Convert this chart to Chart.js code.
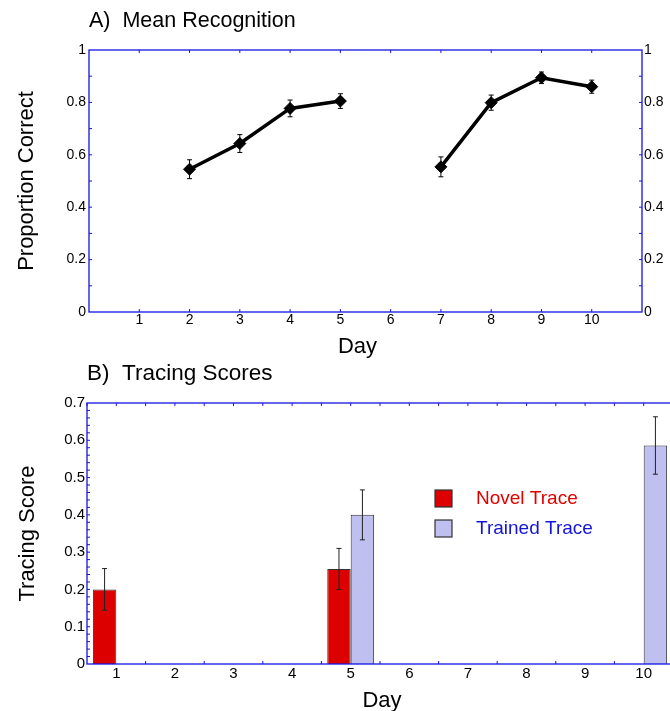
<!DOCTYPE html>
<html>
<head>
<meta charset="utf-8">
<script src="https://cdn.jsdelivr.net/npm/chart.js@4.4.0/dist/chart.umd.min.js"></script>
<style>
  html, body { margin: 0; padding: 0; background: #fff; overflow: hidden; }
  #wrap { position: relative; width: 670px; height: 711px; overflow: hidden; }
  #recogChart { position: absolute; left: 0; top: 0; }
  #traceChart { position: absolute; left: 0; top: 355px; }
</style>
</head>
<body>
<div id="wrap">
  <canvas id="recogChart" width="670" height="370"></canvas>
  <canvas id="traceChart" width="680" height="356"></canvas>
</div>
<script>
// Panel A - mean recognition (null = no session that day)
const recogDays = [2, 3, 4, 5, 6, 7, 8, 9, 10];
const recogMean = [0.545, 0.643, 0.777, 0.805, null, 0.554, 0.799, 0.894, 0.860];
const recogErr = [0.036, 0.034, 0.032, 0.028, null, 0.038, 0.029, 0.022, 0.025];

// Panel B - tracing scores
const traceDays = ["1", "2", "3", "4", "5", "6", "7", "8", "9", "10"];
const novelScore = [0.200, null, null, null, 0.255, null, null, null, null, null];
const novelErr = [0.056, null, null, null, 0.055, null, null, null, null, null];
const trainedScore = [null, null, null, null, 0.400, null, null, null, null, 0.586];
const trainedErr = [null, null, null, null, 0.067, null, null, null, null, 0.077];

const FONT = "'Liberation Sans', Arial, Helvetica, sans-serif";
const AXIS_BLUE = "#1414e0";

// box round the plot area with short inward ticks
const framePlugin = {
  id: "frame",
  afterDraw(chart, args, opts) {
    const { ctx, chartArea: a, scales } = chart;
    const xs = scales.x;
    const ys = scales.y;
    const len = opts.len || 3;
    ctx.save();
    ctx.strokeStyle = AXIS_BLUE;
    ctx.lineWidth = 1.3;
    ctx.strokeRect(a.left, a.top, a.right - a.left, a.bottom - a.top);
    ctx.lineWidth = 1;
    ctx.beginPath();
    (opts.bottom || []).forEach((v) => {
      const px = xs.getPixelForValue(v);
      ctx.moveTo(px, a.bottom);
      ctx.lineTo(px, a.bottom - len);
    });
    (opts.top || []).forEach((v) => {
      const px = xs.getPixelForValue(v);
      ctx.moveTo(px, a.top);
      ctx.lineTo(px, a.top + len);
    });
    (opts.left || []).forEach((v) => {
      const py = ys.getPixelForValue(v);
      ctx.moveTo(a.left, py);
      ctx.lineTo(a.left + len, py);
    });
    (opts.right || []).forEach((v) => {
      const py = ys.getPixelForValue(v);
      ctx.moveTo(a.right, py);
      ctx.lineTo(a.right - len, py);
    });
    ctx.stroke();
    ctx.restore();
  },
};

// error bars for every dataset that carries an "err" array
const errorBarPlugin = {
  id: "errorBars",
  afterDatasetsDraw(chart) {
    const { ctx } = chart;
    const ys = chart.scales.y;
    ctx.save();
    chart.data.datasets.forEach((ds, di) => {
      if (!ds.err) return;
      const meta = chart.getDatasetMeta(di);
      meta.data.forEach((el, i) => {
        const e = ds.err[i];
        const raw = ds.data[i];
        const v = raw !== null && typeof raw === "object" ? raw.y : raw;
        if (v === null || e === null || e === undefined) return;
        const yTop = ys.getPixelForValue(v + e);
        const yBot = ys.getPixelForValue(v - e);
        ctx.strokeStyle = ds.errColor || "#000";
        ctx.lineWidth = 1;
        ctx.beginPath();
        ctx.moveTo(el.x, yTop);
        ctx.lineTo(el.x, yBot);
        ctx.moveTo(el.x - 2.5, yTop);
        ctx.lineTo(el.x + 2.5, yTop);
        ctx.moveTo(el.x - 2.5, yBot);
        ctx.lineTo(el.x + 2.5, yBot);
        ctx.stroke();
      });
    });
    ctx.restore();
  },
};

// titles and axis labels
const textPlugin = {
  id: "texts",
  afterDraw(chart, args, opts) {
    const { ctx, chartArea: a } = chart;
    const midX = (a.left + a.right) / 2;
    const midY = (a.top + a.bottom) / 2;
    ctx.save();
    ctx.fillStyle = "#000";
    ctx.textBaseline = "middle";
    ctx.font = opts.titleSize + "px " + FONT;
    ctx.textAlign = "left";
    ctx.fillText(opts.title, a.left, a.top + opts.titleDy);
    ctx.font = "22px " + FONT;
    ctx.textAlign = "center";
    ctx.fillText(opts.xTitle, midX + opts.xTitleDx, a.bottom + opts.xTitleDy);
    ctx.translate(opts.yTitleX, midY);
    ctx.rotate(-Math.PI / 2);
    ctx.fillText(opts.yTitle, 0, 0);
    ctx.restore();
  },
};

// legend boxes drawn inside the plot area
const boxLegendPlugin = {
  id: "boxLegend",
  afterDraw(chart, args, opts) {
    const { ctx } = chart;
    ctx.save();
    ctx.font = "19px " + FONT;
    ctx.textBaseline = "middle";
    ctx.textAlign = "left";
    chart.data.datasets.forEach((ds, i) => {
      const y = opts.y + i * opts.gap;
      ctx.fillStyle = ds.backgroundColor;
      ctx.fillRect(opts.x, y, 17, 17);
      ctx.strokeStyle = "#333";
      ctx.lineWidth = 1.2;
      ctx.strokeRect(opts.x, y, 17, 17);
      ctx.fillStyle = ds.legendColor;
      ctx.fillText(ds.label, opts.x + 41, y + 9);
    });
    ctx.restore();
  },
};

const fixSize = (prop, size) => (scale) => { scale[prop] = size; };
const plainNum = (v) => String(+v.toFixed(2));

// ---- Panel A
const recogPoints = recogDays.map((d, i) => ({ x: d, y: recogMean[i] }));
const dayTicks = [1, 2, 3, 4, 5, 6, 7, 8, 9, 10];
const tenthTicks = [0.1, 0.2, 0.3, 0.4, 0.5, 0.6, 0.7, 0.8, 0.9];

new Chart(document.getElementById("recogChart"), {
  type: "line",
  data: {
    datasets: [
      {
        label: "Mean Recognition",
        data: recogPoints,
        err: recogErr,
        borderColor: "#000",
        borderWidth: 3.5,
        pointStyle: "rectRot",
        pointRadius: 6,
        pointBackgroundColor: "#000",
        pointBorderColor: "#000",
        pointBorderWidth: 1,
        spanGaps: false,
        tension: 0,
      },
    ],
  },
  options: {
    responsive: false,
    devicePixelRatio: 1,
    animation: false,
    events: [],
    layout: { padding: { top: 50, left: 0, right: 0, bottom: 0 } },
    plugins: {
      legend: { display: false },
      tooltip: { enabled: false },
      frame: { bottom: dayTicks, top: dayTicks, left: tenthTicks, right: tenthTicks, len: 3 },
      texts: {
        title: "A)  Mean Recognition",
        titleSize: 21.5,
        titleDy: -29,
        xTitle: "Day",
        xTitleDx: -8,
        xTitleDy: 35,
        yTitle: "Proportion Correct",
        yTitleX: 27,
      },
    },
    scales: {
      x: {
        type: "linear",
        min: 0,
        max: 11,
        afterFit: fixSize("height", 58),
        grid: { display: false, drawTicks: false },
        border: { display: false },
        ticks: {
          stepSize: 1,
          padding: 0,
          color: "#000",
          font: { family: FONT, size: 14 },
          callback: (v) => (v >= 1 && v <= 10 ? String(v) : ""),
        },
      },
      y: {
        min: 0,
        max: 1,
        afterFit: fixSize("width", 89),
        grid: { display: false, drawTicks: false },
        border: { display: false },
        ticks: { stepSize: 0.2, padding: 3, color: "#000", font: { family: FONT, size: 14 }, callback: plainNum },
      },
      y2: {
        position: "right",
        min: 0,
        max: 1,
        afterFit: fixSize("width", 28),
        grid: { display: false, drawTicks: false },
        border: { display: false },
        ticks: { stepSize: 0.2, padding: 2, color: "#000", font: { family: FONT, size: 14 }, callback: plainNum },
      },
    },
  },
  plugins: [framePlugin, errorBarPlugin, textPlugin],
});

// ---- Panel B
const halfSteps = [];
for (let i = -0.5; i <= 9.5; i += 0.5) halfSteps.push(i);
const betweenDays = [0.5, 1.5, 2.5, 3.5, 4.5, 5.5, 6.5, 7.5, 8.5];
const fineTicks = [];
for (let k = 1; k < 35; k++) fineTicks.push(k * 0.02);

new Chart(document.getElementById("traceChart"), {
  type: "bar",
  data: {
    labels: traceDays,
    datasets: [
      {
        label: "Novel Trace",
        data: novelScore,
        err: novelErr,
        errColor: "#222",
        backgroundColor: "#dd0000",
        borderColor: "#333",
        borderWidth: 1,
        legendColor: "#e00000",
        categoryPercentage: 0.8,
        barPercentage: 1.0,
      },
      {
        label: "Trained Trace",
        data: trainedScore,
        err: trainedErr,
        errColor: "#222",
        backgroundColor: "#bfbff0",
        borderColor: "#333",
        borderWidth: 1,
        legendColor: "#1414d8",
        categoryPercentage: 0.8,
        barPercentage: 1.0,
      },
    ],
  },
  options: {
    responsive: false,
    devicePixelRatio: 1,
    animation: false,
    events: [],
    layout: { padding: { top: 48, left: 0, right: 7, bottom: 0 } },
    plugins: {
      legend: { display: false },
      tooltip: { enabled: false },
      frame: { bottom: betweenDays, top: halfSteps, left: fineTicks, right: [], len: 3 },
      errorBars: {},
      boxLegend: { x: 435, y: 135, gap: 30 },
      texts: {
        title: "B)  Tracing Scores",
        titleSize: 22.5,
        titleDy: -29,
        xTitle: "Day",
        xTitleDx: 2,
        xTitleDy: 37,
        yTitle: "Tracing Score",
        yTitleX: 28,
      },
    },
    scales: {
      x: {
        type: "category",
        offset: true,
        afterFit: fixSize("height", 47),
        grid: { display: false, drawTicks: false },
        border: { display: false },
        ticks: { padding: 1, color: "#000", font: { family: FONT, size: 15 } },
      },
      y: {
        min: 0,
        max: 0.7,
        afterFit: fixSize("width", 87),
        grid: { display: false, drawTicks: false },
        border: { display: false },
        ticks: { stepSize: 0.1, padding: 2, color: "#000", font: { family: FONT, size: 15 }, callback: plainNum },
      },
    },
  },
  plugins: [framePlugin, errorBarPlugin, boxLegendPlugin, textPlugin],
});
</script>
</body>
</html>
